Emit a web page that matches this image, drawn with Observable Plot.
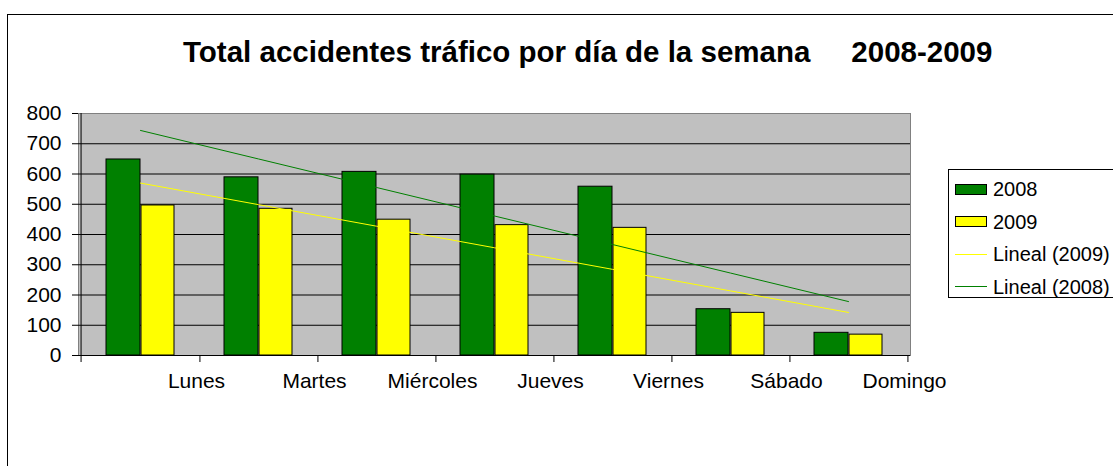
<!DOCTYPE html>
<html>
<head>
<meta charset="utf-8">
<script src="https://cdn.jsdelivr.net/npm/d3@7"></script>
<script src="https://cdn.jsdelivr.net/npm/@observablehq/plot@0.6"></script>
<style>
  html, body { margin: 0; padding: 0; background: #fff; overflow: hidden; width: 1113px; height: 466px; }
  body { position: relative; font-family: Arial, "Liberation Sans", sans-serif; }
  #border { position: absolute; left: 7px; top: 14px; width: 2000px; height: 1000px; border-left: 1px solid #000; border-top: 1px solid #000; }
  #chart { position: absolute; left: 0; top: 0; }
  #title { position: absolute; left: 183px; top: 37px; font-size: 29.5px; font-weight: bold; line-height: 29px; white-space: pre; color: #000; }
  #legend { position: absolute; left: 948px; top: 169px; width: 300px; height: 127px; border: 1px solid #000; background: #fff; }
  .row { position: absolute; left: 6px; height: 20px; display: flex; align-items: center; font-size: 20px; line-height: 20px; white-space: pre; }
  .sw { width: 32px; height: 11px; box-sizing: border-box; border: 1px solid #000; margin-right: 6px; }
  .ln { width: 32px; height: 1px; margin-right: 6px; }
</style>
</head>
<body>
<div id="border"></div>
<div id="chart"></div>
<div id="title"></div>
<div id="legend"></div>
<script>
// ---- data ----
const days = ["Lunes", "Martes", "Miércoles", "Jueves", "Viernes", "Sábado", "Domingo"];
const values2008 = [648, 589, 607, 598, 558, 153, 75];
const values2009 = [496, 485, 449, 431, 422, 141, 69];
const yTicks = [0, 100, 200, 300, 400, 500, 600, 700, 800];
const gridTicks = [100, 200, 300, 400, 500, 600, 700];
const seriesNames = ["2008", "2009"];
const trendNames = ["Lineal (2009)", "Lineal (2008)"];
const titleText = "Total accidentes tráfico por día de la semana     2008-2009";

// ---- layout / style ----
const W = 1113, H = 466;
const mL = 78, mR = 203, mT = 113, mB = 111;
const half = (W - mL - mR) / days.length / 2;
const green = "#008000", yellow = "#FFFF00";

const rows08 = days.map((d, i) => ({day: d, value: values2008[i]}));
const rows09 = days.map((d, i) => ({day: d, value: values2009[i]}));

// least-squares linear trend (like Excel "Lineal")
function trend(vals) {
  const xs = vals.map((_, i) => i + 1);
  const mx = d3.mean(xs), my = d3.mean(vals);
  const b = d3.sum(xs, (x, i) => (x - mx) * (vals[i] - my)) / d3.sum(xs, x => (x - mx) ** 2);
  const a = my - b * mx;
  return days.map((d, i) => ({day: d, value: a + b * (i + 1)}));
}
const trend08 = trend(values2008);
const trend09 = trend(values2009);

const chart = Plot.plot({
  width: W, height: H,
  marginLeft: mL, marginRight: mR, marginTop: mT, marginBottom: mB,
  style: {fontFamily: 'Arial, "Liberation Sans", sans-serif', fontSize: "21px", background: "transparent", color: "#000"},
  x: {type: "band", domain: days, padding: 0, axis: null},
  y: {domain: [0, 800], axis: null},
  marks: [
    Plot.frame({fill: "#C0C0C0", stroke: "#808080"}),
    Plot.gridY(gridTicks, {stroke: "#000", strokeOpacity: 1}),
    Plot.barY(rows08, {x: "day", y: "value", fill: green, stroke: "#000", insetLeft: 25, insetRight: 59}),
    Plot.barY(rows09, {x: "day", y: "value", fill: yellow, stroke: "#000", insetLeft: 60, insetRight: 25}),
    Plot.line(trend09, {x: "day", y: "value", stroke: yellow, strokeWidth: 1}),
    Plot.line(trend08, {x: "day", y: "value", stroke: green, strokeWidth: 1}),
    Plot.ruleY([0], {stroke: "#000"}),
    Plot.ruleX([days[0]], {x: d => d, dx: -half, stroke: "#000", insetBottom: -7}),
    Plot.ruleX(days, {x: d => d, y1: 0, y2: 0, dx: half, stroke: "#000", insetBottom: -7}),
    Plot.axisY(yTicks, {anchor: "left", tickSize: 6, tickPadding: 11, fontSize: 21, label: null, stroke: "#000", fill: "#000"}),
    Plot.text(days, {x: d => d, frameAnchor: "bottom", dx: 56, dy: 32, fontSize: 21, fill: "#000"})
  ]
});
document.getElementById("chart").appendChild(chart);

document.getElementById("title").textContent = titleText;

// ---- legend ----
const legend = document.getElementById("legend");
const legendItems = [
  {label: seriesNames[0], kind: "sw", color: green},
  {label: seriesNames[1], kind: "sw", color: yellow},
  {label: trendNames[0], kind: "ln", color: yellow},
  {label: trendNames[1], kind: "ln", color: green}
];
legendItems.forEach((it, i) => {
  const row = document.createElement("div");
  row.className = "row";
  row.style.top = (9 + i * 32.5) + "px";
  const s = document.createElement("div");
  s.className = it.kind;
  s.style.background = it.color;
  row.appendChild(s);
  const t = document.createElement("span");
  t.textContent = it.label;
  row.appendChild(t);
  legend.appendChild(row);
});
</script>
</body>
</html>
